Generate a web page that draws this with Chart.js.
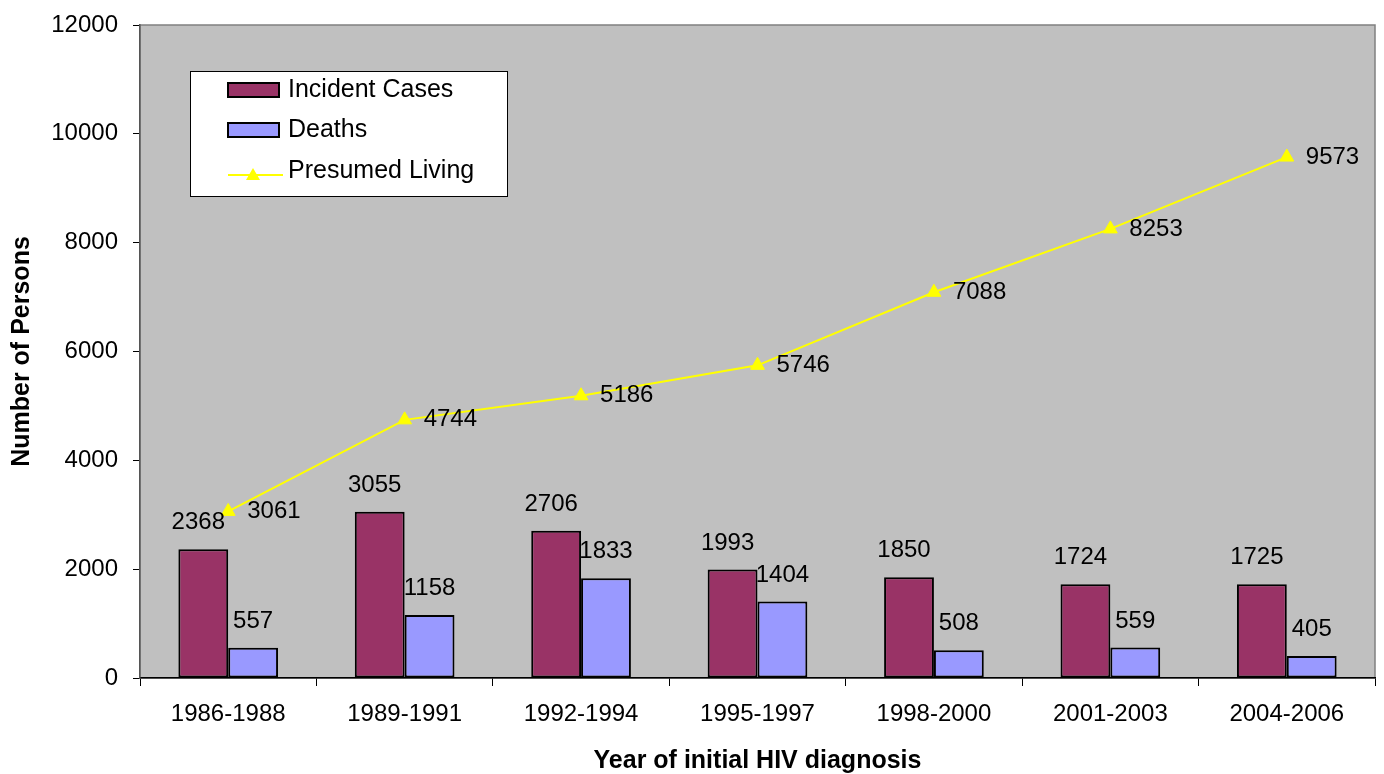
<!DOCTYPE html>
<html lang="en">
<head>
  <meta charset="UTF-8">
  <title>HIV incident cases, deaths and presumed living</title>
  <script src="https://cdn.jsdelivr.net/npm/chart.js"></script>
  <style>
    body { margin: 0; background: #fff; }
    #chart { display: block; }
  </style>
</head>
<body>

<canvas id="chart" width="1384" height="774"></canvas>

<script>

const labels = ['1986-1988', '1989-1991', '1992-1994', '1995-1997', '1998-2000', '2001-2003', '2004-2006'];
const incidentCases = [2368, 3055, 2706, 1993, 1850, 1724, 1725];
const deaths = [557, 1158, 1833, 1404, 508, 559, 405];
const presumedLiving = [3061, 4744, 5186, 5746, 7088, 8253, 9573];
const yTicks = [0, 2000, 4000, 6000, 8000, 10000, 12000];

const FONT = '"Liberation Sans", Arial, sans-serif';

// grey plot background with a thin frame
const plotBackground = {
  id: 'plotBackground',
  beforeDraw(chart) {
    const {ctx, chartArea: a} = chart;
    ctx.save();
    ctx.fillStyle = '#C0C0C0';
    ctx.fillRect(a.left, a.top, a.right - a.left, a.bottom - a.top);
    ctx.strokeStyle = '#808080';
    ctx.lineWidth = 1.5;
    ctx.strokeRect(a.left, a.top, a.right - a.left, a.bottom - a.top);
    ctx.restore();
  }
};

// value labels: above the bars, to the right of the line points
const valueLabels = {
  id: 'valueLabels',
  afterDatasetsDraw(chart) {
    const ctx = chart.ctx;
    ctx.save();
    ctx.font = '24px ' + FONT;
    ctx.fillStyle = '#000';
    chart.data.datasets.forEach((ds, i) => {
      const meta = chart.getDatasetMeta(i);
      meta.data.forEach((el, j) => {
        const v = ds.data[j];
        if (ds.type === 'line') {
          ctx.textAlign = 'left';
          ctx.textBaseline = 'middle';
          ctx.fillText(v, el.x + 19, el.y);
        } else {
          ctx.textAlign = 'center';
          ctx.textBaseline = 'alphabetic';
          ctx.fillText(v, el.x - (i === 0 ? 5 : 0), el.y - 20);
        }
      });
    });
    ctx.restore();
  }
};

// boxed legend inside the plot, top left
const boxLegend = {
  id: 'boxLegend',
  afterDraw(chart) {
    const {ctx, chartArea: a} = chart;
    const x = a.left + 50, y = a.top + 46, w = 317, h = 125;
    ctx.save();
    ctx.fillStyle = '#fff';
    ctx.fillRect(x, y, w, h);
    ctx.strokeStyle = '#000';
    ctx.lineWidth = 1;
    ctx.strokeRect(x + 0.5, y + 0.5, w, h);

    ctx.font = '25px ' + FONT;
    ctx.textAlign = 'left';
    ctx.textBaseline = 'middle';
    const rows = [y + 19, y + 59, y + 100];
    chart.data.datasets.forEach((ds, i) => {
      const ry = rows[i];
      if (ds.type === 'line') {
        ctx.strokeStyle = ds.borderColor;
        ctx.lineWidth = 2;
        ctx.beginPath();
        ctx.moveTo(x + 38, ry + 4);
        ctx.lineTo(x + 93, ry + 4);
        ctx.stroke();
        ctx.fillStyle = ds.pointBackgroundColor;
        ctx.beginPath();
        ctx.moveTo(x + 63, ry - 3);
        ctx.lineTo(x + 70, ry + 9);
        ctx.lineTo(x + 56, ry + 9);
        ctx.closePath();
        ctx.fill();
      } else {
        ctx.fillStyle = ds.backgroundColor;
        ctx.fillRect(x + 38, ry - 7, 51, 14);
        ctx.strokeStyle = '#000';
        ctx.lineWidth = 2;
        ctx.strokeRect(x + 38, ry - 7, 51, 14);
      }
      ctx.fillStyle = '#000';
      ctx.fillText(ds.label, x + 98, ry);
    });
    ctx.restore();
  }
};

const data = {
  labels: labels,
  datasets: [
    {
      label: 'Incident Cases',
      data: incidentCases,
      backgroundColor: '#993366',
      borderColor: '#000',
      borderWidth: 2,
      borderSkipped: false,
      order: 2
    },
    {
      label: 'Deaths',
      data: deaths,
      backgroundColor: '#9999FF',
      borderColor: '#000',
      borderWidth: 2,
      borderSkipped: false,
      order: 3
    },
    {
      type: 'line',
      label: 'Presumed Living',
      data: presumedLiving,
      borderColor: '#FFFF00',
      borderWidth: 2,
      pointStyle: 'triangle',
      pointRadius: 8,
      pointBackgroundColor: '#FFFF00',
      pointBorderColor: '#FFFF00',
      pointBorderWidth: 1,
      tension: 0,
      order: 1
    }
  ]
};

const config = {
  type: 'bar',
  data: data,
  options: {
    responsive: false,
    animation: false,
    categoryPercentage: 0.565,
    barPercentage: 1.0,
    layout: {
      padding: {top: 25, right: 7, bottom: 0, left: 0}
    },
    plugins: {
      legend: { display: false },
      tooltip: { enabled: false }
    },
    scales: {
      x: {
        offset: true,
        grid: {
          offset: true,
          drawOnChartArea: false,
          color: '#000',
          tickLength: 8
        },
        border: { color: '#000', width: 1.5 },
        ticks: {
          color: '#000',
          padding: 14,
          font: { family: FONT, size: 24 }
        },
        title: {
          display: true,
          text: 'Year of initial HIV diagnosis',
          color: '#000',
          padding: { top: 0, bottom: 0 },
          font: { family: FONT, size: 25, weight: 'bold', lineHeight: 1 }
        },
        afterFit(scale) {
          scale.height = 96;
          scale.paddingLeft = 0;
          scale.paddingRight = 0;
        }
      },
      y: {
        min: 0,
        max: 12000,
        afterBuildTicks(scale) {
          scale.ticks = yTicks.map(v => ({value: v}));
        },
        grid: {
          drawOnChartArea: false,
          color: '#000',
          tickLength: 7
        },
        border: { color: '#555', width: 1.5 },
        ticks: {
          color: '#000',
          padding: 15,
          font: { family: FONT, size: 24 },
          callback: (v) => String(v)
        },
        title: {
          display: true,
          text: 'Number of Persons',
          color: '#000',
          padding: { top: 10, bottom: 0 },
          font: { family: FONT, size: 25, weight: 'bold', lineHeight: 1 }
        },
        afterFit(scale) {
          scale.width = 140;
          scale.paddingTop = 0;
          scale.paddingBottom = 0;
        }
      }
    }
  },
  plugins: [plotBackground, valueLabels, boxLegend]
};

const myChart = new Chart(
  document.getElementById('chart'),
  config
);

</script>
</body>
</html>
